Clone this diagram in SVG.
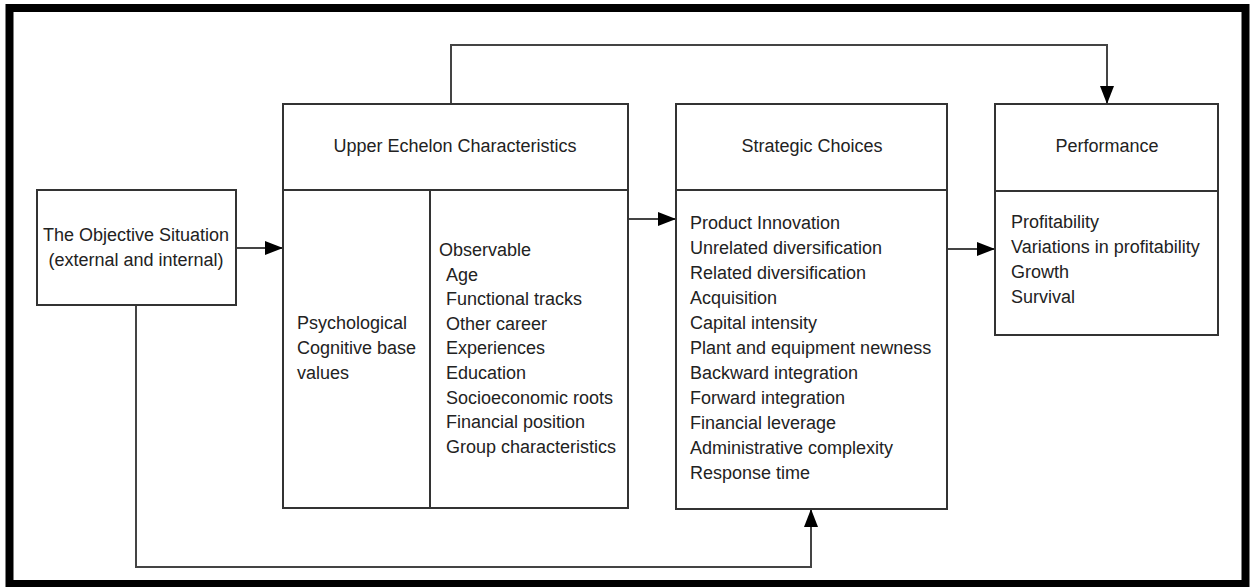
<svg xmlns="http://www.w3.org/2000/svg" width="1254" height="587" viewBox="0 0 1254 587">
<style>
.box{fill:#fff;stroke:#333;stroke-width:2}
.div{stroke:#333;stroke-width:2;fill:none}
.con{stroke:#444;stroke-width:2;fill:none}
text{font-family:"Liberation Sans",Arial,sans-serif;font-size:18px;fill:#222}
.c{text-anchor:middle}
</style>
<defs>
<marker id="ah" viewBox="0 0 18 14" refX="18" refY="7" markerWidth="18" markerHeight="14" markerUnits="userSpaceOnUse" orient="auto">
<path d="M0,0 L18,7 L0,14 Z" fill="#000"/>
</marker>
</defs>
<rect x="0" y="0" width="1254" height="587" fill="#fff"/>
<rect x="9.5" y="8" width="1236" height="576" fill="none" stroke="#000" stroke-width="8"/>

<g id="connectors">
<line class="con" x1="236" y1="248" x2="283" y2="248" marker-end="url(#ah)"/>
<line class="con" x1="628" y1="219" x2="676" y2="219" marker-end="url(#ah)"/>
<line class="con" x1="947" y1="249" x2="995" y2="249" marker-end="url(#ah)"/>
<polyline class="con" points="451,104 451,45 1107,45 1107,104" marker-end="url(#ah)"/>
<polyline class="con" points="136,305 136,567 811,567 811,509" marker-end="url(#ah)"/>
</g>

<g id="objective-situation">
<rect class="box" x="37" y="190" width="199" height="115"/>
<text class="c" x="136" y="241">The Objective Situation</text>
<text class="c" x="136" y="266">(external and internal)</text>
</g>

<g id="upper-echelon">
<rect class="box" x="283" y="104" width="345" height="404"/>
<line class="div" x1="283" y1="190" x2="628" y2="190"/>
<line class="div" x1="430" y1="190" x2="430" y2="508"/>
<text class="c" x="455" y="152">Upper Echelon Characteristics</text>
<text x="297" y="329">Psychological</text>
<text x="297" y="354">Cognitive base</text>
<text x="297" y="379">values</text>
<text x="439" y="256">Observable</text>
<text x="446" y="280.6">Age</text>
<text x="446" y="305.2">Functional tracks</text>
<text x="446" y="329.8">Other career</text>
<text x="446" y="354.4">Experiences</text>
<text x="446" y="379">Education</text>
<text x="446" y="403.6">Socioeconomic roots</text>
<text x="446" y="428.2">Financial position</text>
<text x="446" y="452.8">Group characteristics</text>
</g>

<g id="strategic-choices">
<rect class="box" x="676" y="104" width="271" height="405"/>
<line class="div" x1="676" y1="190" x2="947" y2="190"/>
<text class="c" x="812" y="152">Strategic Choices</text>
<text x="690" y="229">Product Innovation</text>
<text x="690" y="254">Unrelated diversification</text>
<text x="690" y="279">Related diversification</text>
<text x="690" y="304">Acquisition</text>
<text x="690" y="329">Capital intensity</text>
<text x="690" y="354">Plant and equipment newness</text>
<text x="690" y="379">Backward integration</text>
<text x="690" y="404">Forward integration</text>
<text x="690" y="429">Financial leverage</text>
<text x="690" y="454">Administrative complexity</text>
<text x="690" y="479">Response time</text>
</g>

<g id="performance">
<rect class="box" x="995" y="104" width="223" height="231"/>
<line class="div" x1="995" y1="191" x2="1218" y2="191"/>
<text class="c" x="1107" y="152">Performance</text>
<text x="1011" y="228">Profitability</text>
<text x="1011" y="253">Variations in profitability</text>
<text x="1011" y="278">Growth</text>
<text x="1011" y="303">Survival</text>
</g>
</svg>
